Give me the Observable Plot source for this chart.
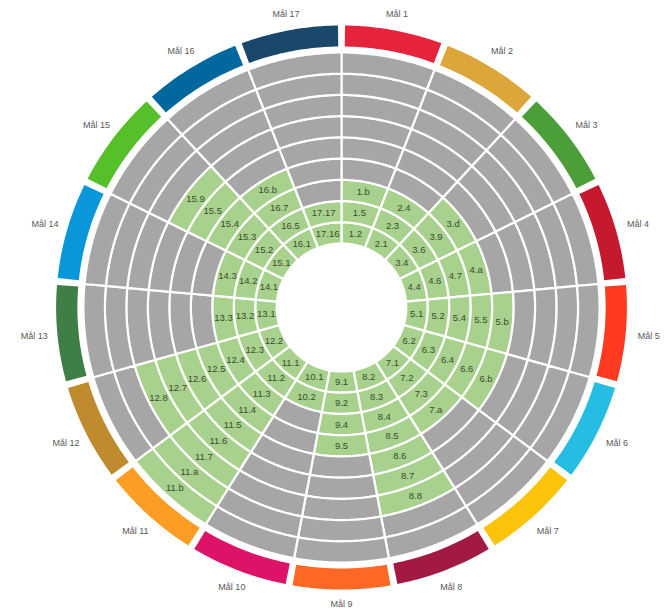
<!DOCTYPE html>
<html><head><meta charset="utf-8">
<script src="https://cdn.jsdelivr.net/npm/d3@7"></script>
<script src="https://cdn.jsdelivr.net/npm/@observablehq/plot@0.6"></script>
<style>body{margin:0;background:#fff}#chart svg{display:block}</style>
</head><body><div id="chart"></div>
<script>
// ---- data ----
const goals = ["Mål 1","Mål 2","Mål 3","Mål 4","Mål 5","Mål 6","Mål 7","Mål 8","Mål 9",
  "Mål 10","Mål 11","Mål 12","Mål 13","Mål 14","Mål 15","Mål 16","Mål 17"];
const goalColors = ["#E5243B","#DDA63A","#4C9F38","#C5192D","#FF3A21","#26BDE2","#FCC30B",
  "#A21942","#FD6925","#DD1367","#FD9D24","#BF8B2E","#3F7E44","#0A97D9","#56C02B","#00689D","#19486A"];
const targets = [
  ["1.2","1.5","1.b"],
  ["2.1","2.3","2.4"],
  ["3.4","3.6","3.9","3.d"],
  ["4.4","4.6","4.7","4.a"],
  ["5.1","5.2","5.4","5.5","5.b"],
  ["6.2","6.3","6.4","6.6","6.b"],
  ["7.1","7.2","7.3","7.a"],
  ["8.2","8.3","8.4","8.5","8.6","8.7","8.8"],
  ["9.1","9.2","9.4","9.5"],
  ["10.1","10.2"],
  ["11.1","11.2","11.3","11.4","11.5","11.6","11.7","11.a","11.b"],
  ["12.2","12.3","12.4","12.5","12.6","12.7","12.8"],
  ["13.1","13.2","13.3"],
  ["14.1","14.2","14.3"],
  ["15.1","15.2","15.3","15.4","15.5","15.9"],
  ["16.1","16.5","16.7","16.b"],
  ["17.16","17.17"]
];
const ringCount = 9;
const activeColor = "#A9D18E";
const idleColor = "#A6A6A6";

// ---- geometry (derived from data indices) ----
const W = 668, H = 614, cx = 341, cy = 307, kx = 1.012;
const R0 = 64, R1 = 255, arcIn = 261, arcOut = 282, labelR = 297;
const n = goals.length, step = 2 * Math.PI / n, ringW = (R1 - R0) / ringCount;
const pt = (a, r) => ({x: r * Math.sin(a), y: r * Math.cos(a)});

function wedge(a0, a1, r0, r1, id, fill, out) {
  const m = 28, pts = [];
  for (let i = 0; i <= m; i++) pts.push(pt(a0 + (a1 - a0) * i / m, r1));
  for (let i = m; i >= 0; i--) pts.push(pt(a0 + (a1 - a0) * i / m, r0));
  pts.push(pts[0]);
  for (const p of pts) out.push({...p, id, fill});
}

const cellPts = [], cellLabels = [], arcPts = [], goalLabels = [];
goals.forEach((g, gi) => {
  const a0 = gi * step, a1 = (gi + 1) * step, am = (gi + 0.5) * step;
  for (let k = 0; k < ringCount; k++) {
    const has = k < targets[gi].length;
    wedge(a0, a1, R0 + k * ringW, R0 + (k + 1) * ringW, `c${gi}-${k}`, has ? activeColor : idleColor, cellPts);
    if (has) cellLabels.push({...pt(am, R0 + (k + 0.5) * ringW), text: targets[gi][k]});
  }
  const pad = 3.2 / arcIn;
  wedge(a0 + pad, a1 - pad, arcIn, arcOut, `a${gi}`, goalColors[gi], arcPts);
  const lr = labelR + 8 * Math.abs(Math.sin(am));
  goalLabels.push({...pt(am, lr), text: g});
});

const chart = Plot.plot({
  width: W, height: H, margin: 0,
  x: {domain: [-cx / kx, (W - cx) / kx], axis: null},
  y: {domain: [-(H - cy), cy], axis: null},
  color: {type: "identity"},
  marks: [
    Plot.line(cellPts, {x: "x", y: "y", z: "id", fill: "fill", stroke: "white", strokeWidth: 2.2, strokeLinejoin: "miter", curve: "linear"}),
    Plot.line(arcPts, {x: "x", y: "y", z: "id", fill: "fill", stroke: "none", curve: "linear"}),
    Plot.text(cellLabels, {x: "x", y: "y", text: "text", fontSize: 9.5, fill: "#3A4C2E", fontFamily: "Liberation Sans, Arial, sans-serif"}),
    Plot.text(goalLabels, {x: "x", y: "y", text: "text", fontSize: 9, fill: "#595959", fontFamily: "Liberation Sans, Arial, sans-serif"})
  ]
});
document.getElementById("chart").appendChild(chart);
</script>
</body></html>
